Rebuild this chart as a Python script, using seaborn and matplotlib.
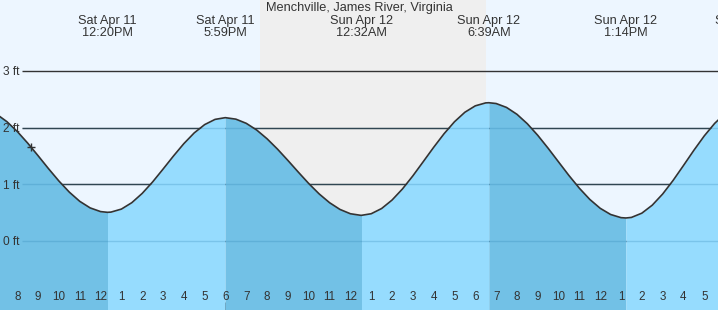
import numpy as np
import matplotlib
matplotlib.use('Agg')
import matplotlib.pyplot as plt
from matplotlib.transforms import blended_transform_factory
import seaborn as sns
import pandas as pd

sns.set_theme(style='white')
plt.rcParams['font.family'] = ['Liberation Sans', 'DejaVu Sans']

title = "Menchville, James River, Virginia"

# tide predictions: time (hours since Sat Apr 11 00:00) and height (ft)
times = [7.0, 7.5, 8.0, 8.5, 9.0, 9.5, 10.0, 10.5, 11.0, 11.5, 12.0, 12.333,
         12.5, 13.0, 13.5, 14.0, 14.5, 15.0, 15.5, 16.0, 16.5, 17.0, 17.5, 17.983,
         18.0, 18.5, 19.0, 19.5, 20.0, 20.5, 21.0, 21.5, 22.0, 22.5, 23.0, 23.5, 24.0, 24.5, 24.533,
         25.0, 25.5, 26.0, 26.5, 27.0, 27.5, 28.0, 28.5, 29.0, 29.5, 30.0, 30.5, 30.65,
         31.0, 31.5, 32.0, 32.5, 33.0, 33.5, 34.0, 34.5, 35.0, 35.5, 36.0, 36.5, 37.0, 37.233,
         37.5, 38.0, 38.5, 39.0, 39.5, 40.0, 40.5, 41.0, 41.5, 42.0]
heights = [2.239, 2.106, 1.932, 1.727, 1.504, 1.276, 1.058, 0.862, 0.7, 0.584, 0.519, 0.506,
           0.51, 0.563, 0.676, 0.84, 1.042, 1.268, 1.499, 1.718, 1.908, 2.054, 2.146, 2.176,
           2.176, 2.15, 2.076, 1.958, 1.803, 1.621, 1.421, 1.215, 1.014, 0.831, 0.676, 0.557, 0.481, 0.453, 0.453,
           0.481, 0.573, 0.722, 0.918, 1.149, 1.4, 1.653, 1.893, 2.104, 2.272, 2.385, 2.437, 2.44,
           2.426, 2.357, 2.236, 2.069, 1.865, 1.636, 1.395, 1.155, 0.931, 0.734, 0.577, 0.468, 0.412, 0.406,
           0.416, 0.491, 0.632, 0.829, 1.068, 1.332, 1.601, 1.855, 2.076, 2.249]

# high / low tide extremes
ext_times = [6.0, 12.333, 17.983, 24.533, 30.65, 37.233, 43.03]
ext_heights = [2.35, 0.506, 2.176, 0.453, 2.44, 0.406, 2.40]
ext_day = ["", "Sat Apr 11", "Sat Apr 11", "Sun Apr 12", "Sun Apr 12", "Sun Apr 12", "Sun Apr 12"]
ext_clock = ["", "12:20PM", "5:59PM", "12:32AM", "6:39AM", "1:14PM", ""]

hours = list(range(8, 42))
hour_labels = [str((h - 1) % 12 + 1) for h in hours]
ft_levels = [0, 1, 2, 3]
ft_labels = ["0 ft", "1 ft", "2 ft", "3 ft"]
night = (19.658, 30.514)
now_t, now_h = 8.64, 1.66

W, H = 718, 310
PXH = 20.818
X8 = 17.3
PXF = 56.67
Y0 = 241
xlim = (8 - X8 / PXH, 8 + (W - X8) / PXH)
ylim = (-(H - Y0) / PXF, Y0 / PXF)

fig = plt.figure(figsize=(W / 100, H / 100), dpi=100)
ax = fig.add_axes([0, 0, 1, 1])
ax.set_facecolor('#edf6ff')
ax.axvspan(*night, color='#efefef', zorder=0, lw=0)

gx0 = 8 + (22 - X8) / PXH
ax.hlines(ft_levels, gx0, xlim[1], color='#333333', lw=1, zorder=1)

t = np.array(times)
h = np.array(heights)
for i in range(len(ext_times) - 1):
    m = (t >= ext_times[i]) & (t <= ext_times[i + 1])
    col = '#72c1e6' if ext_heights[i] > ext_heights[i + 1] else '#96dcfe'
    ax.fill_between(t[m], h[m], ylim[0], color=col, lw=0, zorder=2)
ax.hlines(ft_levels[:3], gx0, xlim[1], color='#2a7fb0', alpha=0.25, lw=1, zorder=3)

df = pd.DataFrame({'t': times, 'h': heights})
sns.lineplot(data=df, x='t', y='h', ax=ax, color='#333333', lw=1.2,
             estimator=None, sort=True, zorder=4)
ax.plot([now_t], [now_h], marker='+', ms=6, mew=1, color='#333333', zorder=5)

ax.set_xlim(*xlim)
ax.set_ylim(*ylim)
for s in ax.spines.values():
    s.set_visible(False)
ax.set_xlabel('')
ax.set_ylabel('')
ax.set_yticks([])
ax.set_xticks(hours)
ax.tick_params(axis='x', direction='in', length=5.5, width=0.8, color='#333333',
               labelbottom=False, bottom=True)
for tk, hr in zip(ax.xaxis.get_major_ticks(), hours):
    if hr == 24:
        tk.tick1line.set_markeredgewidth(2.2)

tx = blended_transform_factory(ax.transData, ax.transAxes)
for hr, lb in zip(hours, hour_labels):
    ax.text(hr, 1 - 300 / H, lb, transform=tx, ha='center', va='baseline',
            fontsize=8.4, color='#333333')
ty = blended_transform_factory(ax.transAxes, ax.transData)
for lv, lb in zip(ft_levels, ft_labels):
    ax.text(3 / W, lv - 4.4 / PXF, lb, transform=ty, ha='left', va='baseline',
            fontsize=8.6, color='#333333')
for et, d, c in zip(ext_times, ext_day, ext_clock):
    if d:
        ax.text(et, 1 - 24 / H, d, transform=tx, ha='center', va='baseline',
                fontsize=9.2, color='#333333')
    if c:
        ax.text(et, 1 - 36.3 / H, c, transform=tx, ha='center', va='baseline',
                fontsize=9.2, color='#333333')
ax.text(0.5, 1 - 11.5 / H, title, transform=ax.transAxes, ha='center', va='baseline',
        fontsize=9.2, color='#333333')

fig.savefig('out.png', dpi=100)
